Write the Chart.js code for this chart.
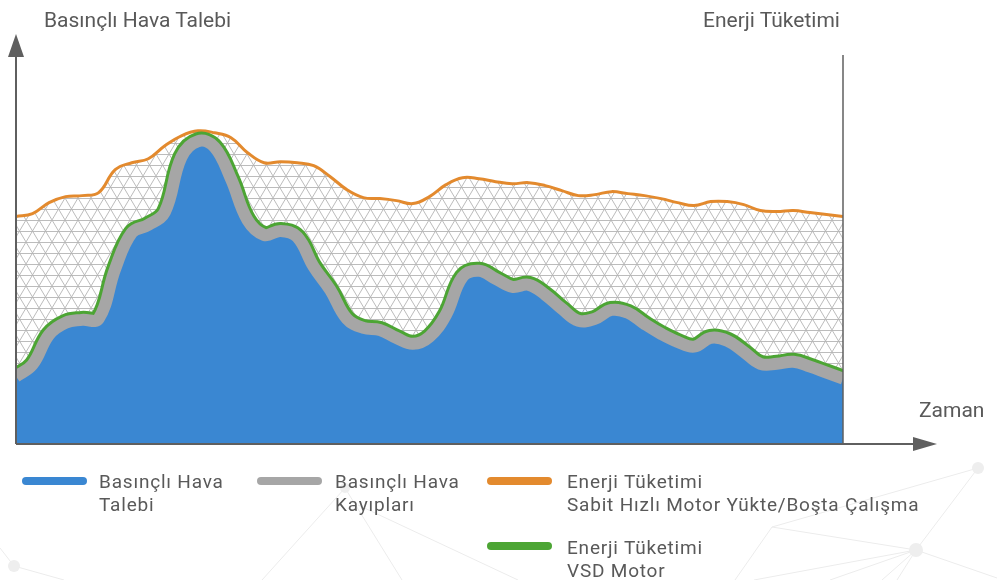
<!DOCTYPE html>
<html lang="tr">
<head>
<meta charset="utf-8">
<title>Basınçlı Hava Talebi ve Enerji Tüketimi</title>
<script src="https://cdn.jsdelivr.net/npm/chart.js@4/dist/chart.umd.min.js"></script>
<style>
    html, body { margin: 0; padding: 0; background: #fff; }
    body { width: 997px; height: 580px; position: relative; overflow: hidden;
           font-family: Roboto, "Noto Sans", sans-serif; color: #595959; }
    #wrap { position: absolute; left: 0; top: 0; width: 997px; height: 580px; }
    .lbl { position: absolute; font-size: 21px; line-height: 24px; white-space: nowrap; }
    .leg { position: absolute; font-size: 19px; line-height: 23px; letter-spacing: 0.8px; white-space: nowrap; }
    .sw { position: absolute; width: 65px; height: 8px; border-radius: 4px; }
</style>
</head>
<body>
<div id="wrap"><canvas id="chart"></canvas></div>

<div class="lbl" style="left:44px; top:8px;">Basınçlı Hava Talebi</div>
<div class="lbl" style="left:703px; top:8px;">Enerji Tüketimi</div>
<div class="lbl" style="left:919px; top:398px;">Zaman</div>

<div class="sw" style="left:22px; top:477px; background:#3a87d2;"></div>
<div class="leg" style="left:99px; top:470px;">Basınçlı Hava<br>Talebi</div>
<div class="sw" style="left:257px; top:477px; background:#a6a6a6;"></div>
<div class="leg" style="left:335px; top:470px;">Basınçlı Hava<br>Kayıpları</div>
<div class="sw" style="left:487px; top:477px; background:#e38a2e;"></div>
<div class="leg" style="left:567px; top:470px;">Enerji Tüketimi<br>Sabit Hızlı Motor Yükte/Boşta Çalışma</div>
<div class="sw" style="left:487px; top:542px; background:#4ca534;"></div>
<div class="leg" style="left:567px; top:536px;">Enerji Tüketimi<br>VSD Motor</div>

<script>
// --- Data (y in % of axis height) ---
const zaman = Array.from({ length: 51 }, (_, i) => i);

// pressured air demand incl. losses band (centre of the grey band)
const talep = [
    16.9, 19.9, 27.4, 30.4, 31.1, 31.4, 43.9, 52.9, 54.9, 58.1,
    71.9, 75.9, 74.4, 66.4, 56.1, 52.4, 53.4, 51.9, 44.4, 38.6,
    31.4, 29.1, 28.6, 26.6, 25.1, 26.9, 32.4, 41.9, 43.4, 41.4,
    39.4, 39.9, 37.4, 33.9, 30.9, 31.4, 33.6, 32.9, 30.1, 27.6,
    25.6, 24.4, 26.6, 25.9, 23.1, 20.1, 20.1, 20.6, 19.4, 17.9,
    16.4
];

// fixed speed motor energy (load / unload)
const sabitHiz = [
    57.0, 57.75, 60.5, 62.0, 62.25, 63.0, 68.75, 70.5, 71.5, 74.75,
    77.25, 78.5, 78.0, 76.75, 73.0, 70.5, 70.75, 70.5, 69.75, 67.0,
    63.75, 61.75, 61.5, 61.0, 60.25, 62.0, 65.0, 66.75, 66.5, 65.75,
    65.25, 65.5, 64.75, 63.5, 62.25, 62.5, 63.25, 62.75, 62.25, 61.5,
    60.5, 59.75, 60.75, 60.75, 60.0, 58.5, 58.25, 58.5, 58.0, 57.5,
    57.0
];

// --- Triangle hatch pattern ---
function makeHatch() {
    const c = document.createElement('canvas');
    c.width = 13;
    c.height = 22;
    const g = c.getContext('2d');
    g.strokeStyle = '#b4b4b4';
    g.lineWidth = 0.9;
    g.beginPath();
    g.moveTo(0, 0.5); g.lineTo(13, 0.5);
    g.moveTo(0, 11.5); g.lineTo(13, 11.5);
    g.moveTo(0, 0); g.lineTo(13, 22);
    g.moveTo(13, 0); g.lineTo(0, 22);
    g.stroke();
    return g.createPattern(c, 'repeat');
}

// --- faint network decoration behind the legend ---
const decoLines = [
    [978, 468, 772, 527], [772, 527, 916, 550], [978, 468, 916, 550],
    [916, 550, 754, 580], [916, 550, 830, 580], [916, 550, 882, 580],
    [916, 550, 897, 580], [916, 550, 997, 578], [772, 527, 735, 580],
    [345, 488, 262, 580], [345, 488, 402, 580], [358, 505, 518, 580],
    [14, 566, 64, 580], [14, 566, 0, 548]
];
const decoDots = [[978, 468, 6], [916, 550, 7], [345, 488, 5], [14, 566, 6]];

const decoPlugin = {
    id: 'deco',
    beforeDraw(chart) {
        const { ctx } = chart;
        ctx.save();
        ctx.strokeStyle = '#ececec';
        ctx.lineWidth = 1;
        ctx.beginPath();
        decoLines.forEach(l => { ctx.moveTo(l[0], l[1]); ctx.lineTo(l[2], l[3]); });
        ctx.stroke();
        ctx.fillStyle = '#eeeeee';
        decoDots.forEach(d => {
            ctx.beginPath();
            ctx.arc(d[0], d[1], d[2], 0, Math.PI * 2);
            ctx.fill();
        });
        ctx.restore();
    }
};

// --- Axes with arrows ---
const axesPlugin = {
    id: 'axes',
    afterDatasetsDraw(chart) {
        const { ctx, chartArea: a } = chart;
        ctx.save();
        ctx.strokeStyle = '#5f5f5f';
        ctx.fillStyle = '#5f5f5f';
        ctx.lineWidth = 2;
        ctx.beginPath();
        ctx.moveTo(a.left, a.bottom);
        ctx.lineTo(a.left, a.top + 12);
        ctx.moveTo(a.left, a.bottom);
        ctx.lineTo(a.right + 72, a.bottom);
        ctx.stroke();
        ctx.lineWidth = 1.5;
        ctx.beginPath();
        ctx.moveTo(a.right, a.bottom);
        ctx.lineTo(a.right, a.top + 10);
        ctx.stroke();
        // arrow heads
        ctx.beginPath();
        ctx.moveTo(a.left, a.top - 11);
        ctx.lineTo(a.left - 8, a.top + 12);
        ctx.lineTo(a.left + 8, a.top + 12);
        ctx.closePath();
        ctx.fill();
        ctx.beginPath();
        ctx.moveTo(a.right + 94, a.bottom);
        ctx.lineTo(a.right + 70, a.bottom - 7);
        ctx.lineTo(a.right + 70, a.bottom + 7);
        ctx.closePath();
        ctx.fill();
        ctx.restore();
    }
};

const ctx = document.getElementById('chart').getContext('2d');
new Chart(ctx, {
    type: 'line',
    data: {
        labels: zaman,
        datasets: [
            {
                label: 'Enerji Tüketimi Sabit Hızlı Motor Yükte/Boşta Çalışma',
                data: sabitHiz,
                borderColor: '#e38a2e',
                borderWidth: 3,
                backgroundColor: makeHatch(),
                fill: { target: 1 },
                order: 4
            },
            {
                label: 'Enerji Tüketimi VSD Motor',
                data: talep,
                borderColor: '#4ca534',
                borderWidth: 18,
                fill: false,
                order: 3
            },
            {
                label: 'Basınçlı Hava Talebi',
                data: talep,
                borderWidth: 0,
                borderColor: 'rgba(0,0,0,0)',
                backgroundColor: '#3a87d2',
                fill: 'origin',
                order: 2
            },
            {
                label: 'Basınçlı Hava Kayıpları',
                data: talep,
                borderColor: '#a6a6a6',
                borderWidth: 12,
                fill: false,
                order: 1
            }
        ]
    },
    options: {
        responsive: true,
        maintainAspectRatio: false,
        animation: false,
        layout: { padding: { left: 16, right: 154, top: 45, bottom: 136 } },
        elements: {
            point: { radius: 0 },
            line: { tension: 0.4, capBezierPoints: true, borderJoinStyle: 'round' }
        },
        datasets: { line: { clip: 0 } },
        scales: {
            x: { display: false, offset: false },
            y: { display: false, min: 0, max: 100 }
        },
        plugins: {
            legend: { display: false },
            tooltip: { enabled: false }
        }
    },
    plugins: [decoPlugin, axesPlugin]
});
</script>
</body>
</html>
